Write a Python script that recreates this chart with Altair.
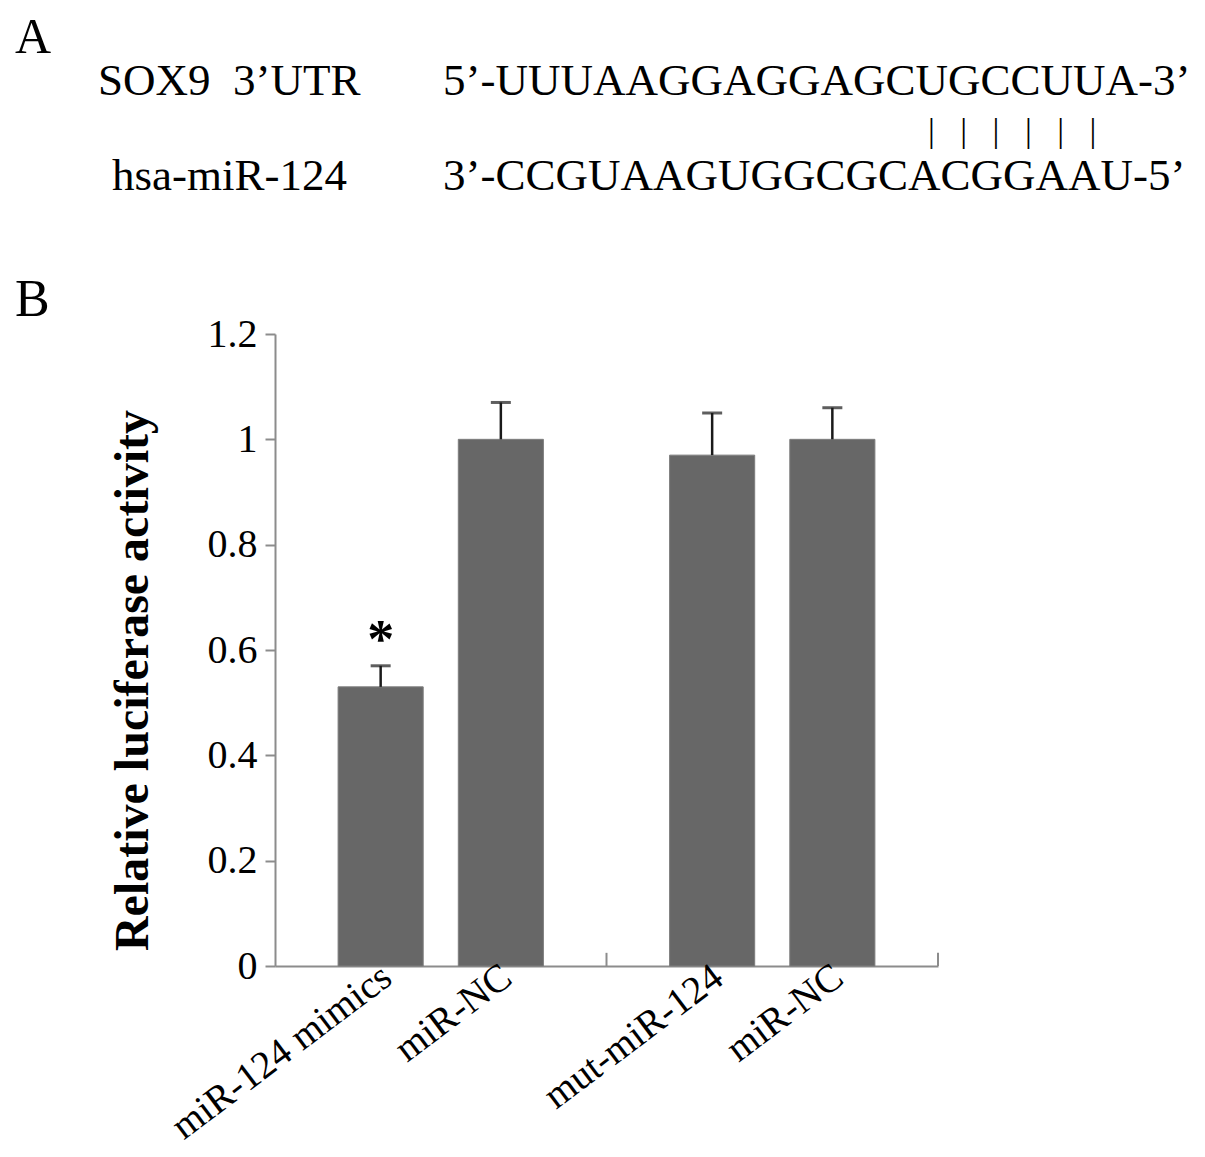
import altair as alt
import pandas as pd

# ---------------- data ----------------
groups = ["Group 1", "Group 2"]
bar_group = ["Group 1", "Group 1", "Group 2", "Group 2"]
bar_slot = ["1", "2", "1", "2"]
bar_labels = ["miR-124 mimics", "miR-NC", "mut-miR-124", "miR-NC"]
bar_values = [0.53, 1.00, 0.97, 1.00]
bar_errors = [0.04, 0.07, 0.08, 0.06]
bar_marks = ["*", "", "", ""]
y_ticks = [0, 0.2, 0.4, 0.6, 0.8, 1.0, 1.2]

NB = "\u00a0"
panel_letters = ["A", "B"]
seq_names = ["SOX9" + NB + NB + "3\u2019UTR", "hsa-miR-124"]
seq_strings = ["5\u2019-UUUAAGGAGGAGCUGCCUUA-3\u2019", "3\u2019-CCGUAAGUGGCGCACGGAAU-5\u2019"]
pair_string = (NB * 3).join(["|"] * 6)

FONT = "Liberation Serif"
AXIS_GRAY = "#8c8c8c"
BAR_FILL = "#676767"
ERR_COL = "#1a1a1a"

df = pd.DataFrame({
    "group": bar_group,
    "slot": bar_slot,
    "label": bar_labels,
    "value": bar_values,
    "err": bar_errors,
    "mark": bar_marks,
})
gdf = pd.DataFrame({"group": groups})

x_enc = alt.X(
    "group:N",
    scale=alt.Scale(domain=groups, paddingInner=0, paddingOuter=0),
    axis=alt.Axis(labels=False, ticks=False, title=None, domainColor=AXIS_GRAY, domainWidth=2),
)
xoff_enc = alt.XOffset("slot:N", scale=alt.Scale(domain=["1", "2"], paddingInner=0.292, paddingOuter=0.525))
y_scale = alt.Scale(domain=[0, 1.2], nice=False, zero=True)
Y_TITLE = "Relative luciferase activity"

base = alt.Chart(df).transform_calculate(upper="datum.value + datum.err").encode(x=x_enc, xOffset=xoff_enc)

bars = base.mark_bar(color=BAR_FILL, stroke="#7d7d7d", strokeWidth=1).encode(
    y=alt.Y(
        "value:Q",
        scale=y_scale,
        title=Y_TITLE,
        axis=alt.Axis(
            values=y_ticks, format="~g", grid=False,
            domainColor=AXIS_GRAY, domainWidth=2, tickColor=AXIS_GRAY, tickWidth=2, tickSize=10,
            labelFont=FONT, labelFontSize=40, labelColor="black", labelPadding=8,
            titleFont=FONT, titleFontSize=48,
            titleFontWeight="bold", titleColor="black", titleAngle=270,
            titleX=-142, titleY=346, titleAlign="center", titleBaseline="middle",
        ),
    )
)

err_line = base.mark_rule(color=ERR_COL, strokeWidth=2.5).encode(
    y=alt.Y("value:Q", scale=y_scale, title=Y_TITLE), y2="upper:Q"
)
err_cap = base.mark_tick(color=ERR_COL, thickness=3, size=20).encode(
    y=alt.Y("upper:Q", scale=y_scale, title=Y_TITLE)
)
stars = base.mark_text(font=FONT, fontSize=54, fontWeight="bold", baseline="alphabetic", dy=-9,
                       color="black").encode(
    y=alt.Y("upper:Q", scale=y_scale, title=Y_TITLE), text="mark:N"
)
xlabels = base.mark_text(font=FONT, fontSize=39, angle=323, align="right", baseline="top",
                         dx=1, dy=-10, color="black").encode(
    y=alt.datum(0), text="label:N"
)
sep_ticks = alt.Chart(gdf).mark_rule(color=AXIS_GRAY, strokeWidth=2).encode(
    x=alt.X("group:N", bandPosition=1),
    y=alt.datum(0), y2=alt.datum(0.025),
)

def txt(s, x, y, size, weight="normal"):
    return alt.Chart(pd.DataFrame({"t": [s]})).mark_text(
        font=FONT, fontSize=size, fontWeight=weight, align="left", baseline="alphabetic", color="black"
    ).encode(x=alt.value(x), y=alt.value(y), text="t:N")

annots = [
    txt(panel_letters[0], -260, -281, 50),
    txt(panel_letters[1], -260, -18, 52),
    txt(seq_names[0], -177, -239, 45),
    txt(seq_names[1], -163, -144, 45),
    txt(seq_strings[0], 168, -239, 45),
    txt(seq_strings[1], 168, -144, 45),
    txt(pair_string, 653, -192, 34),
]

chart = alt.layer(bars, err_line, err_cap, stars, xlabels, sep_ticks, *annots).properties(
    width=663, height=632,
    padding={"left": 267, "top": 326, "right": 258, "bottom": 183},
    autosize=alt.AutoSizeParams(type="none"),
).configure(font=FONT).configure_view(strokeWidth=0)

chart.save("out.html", embed_options={"renderer": "svg", "actions": False})
